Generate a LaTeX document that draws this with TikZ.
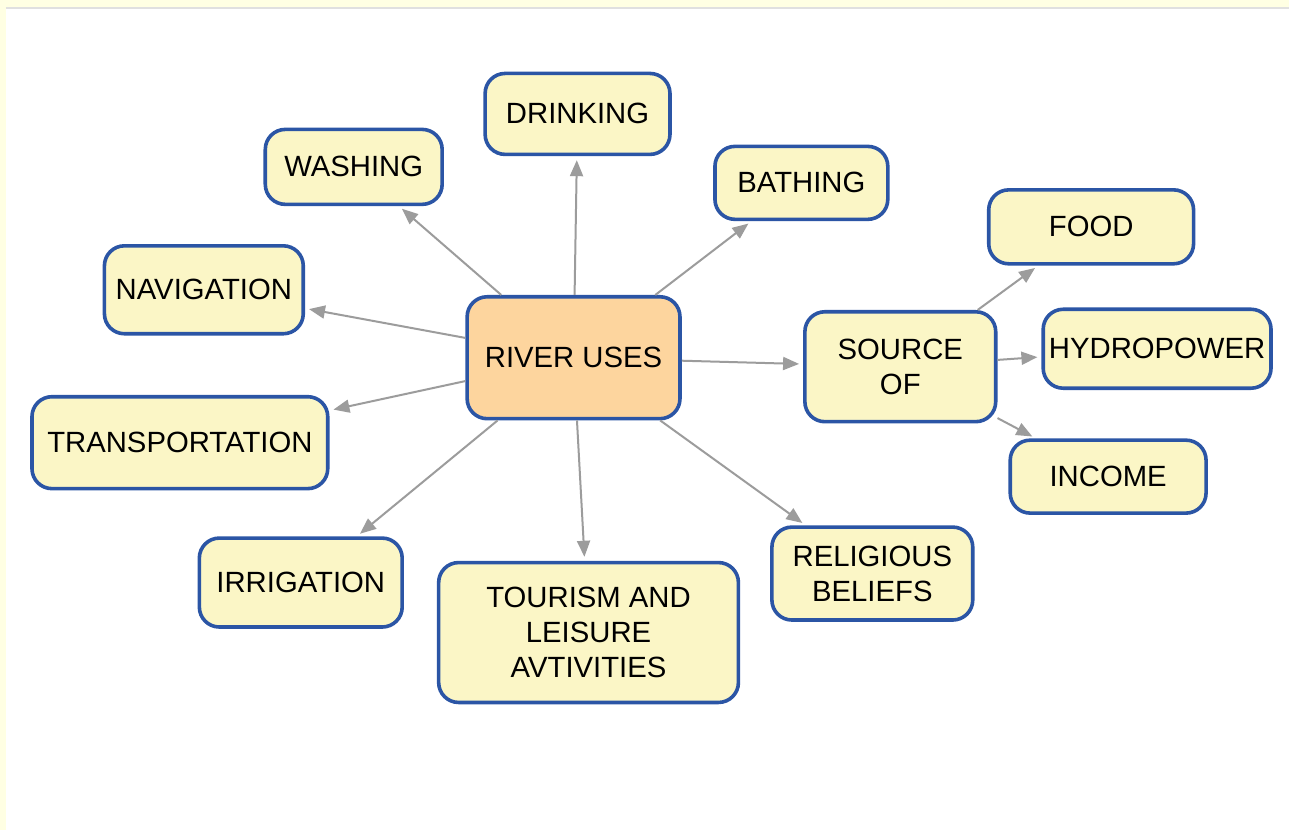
\documentclass[tikz,border=0pt]{standalone}
\usepackage{fontspec}
\setmainfont{Liberation Sans}
\usetikzlibrary{arrows.meta}
\definecolor{bordblue}{HTML}{2B55A5}
\definecolor{boxfill}{HTML}{FBF6C6}
\definecolor{centerfill}{HTML}{FDD59E}
\definecolor{arrgray}{HTML}{9C9C9C}
\definecolor{frameyellow}{HTML}{FFFFE3}
\tikzset{
  box/.style={draw=bordblue, line width=3.6pt, fill=boxfill, rounded corners=20pt,
    align=center, inner sep=0pt, font=\fontsize{29.3}{35}\selectfont},
  conn/.style={draw=arrgray, line width=2pt, -{Triangle[length=16pt,width=13pt]}, shorten >=4pt}
}
\begin{document}
\begin{tikzpicture}[x=1pt,y=-1pt]
\fill[frameyellow] (0,0) rectangle (1290,831);
\fill[white] (6,8) rectangle (1290,831);
\draw[black!12, line width=2pt] (6,8) -- (1290,8);
\useasboundingbox (0,0) rectangle (1290,831);

\node[box, minimum width=185pt, minimum height=81pt] (drink) at (578,114) {DRINKING};
\node[box, minimum width=177pt, minimum height=75pt] (wash) at (354,167) {WASHING};
\node[box, minimum width=173pt, minimum height=73pt] (bath) at (802,183) {BATHING};
\node[box, minimum width=199pt, minimum height=88pt] (nav) at (204,290) {NAVIGATION};
\node[box, fill=centerfill, minimum width=213pt, minimum height=122pt] (ru) at (574,358) {RIVER USES};
\node[box, minimum width=296pt, minimum height=92pt] (trans) at (180,443) {TRANSPORTATION};
\node[box, minimum width=191pt, minimum height=110pt] (src) at (901,367) {SOURCE\\OF};
\node[box, minimum width=205pt, minimum height=74pt] (food) at (1092,227) {FOOD};
\node[box, minimum width=228pt, minimum height=79pt] (hydro) at (1158,349) {HYDROPOWER};
\node[box, minimum width=196pt, minimum height=73pt] (inc) at (1109,477) {INCOME};
\node[box, minimum width=203pt, minimum height=89pt] (irr) at (301,583) {IRRIGATION};
\node[box, minimum width=300pt, minimum height=140pt] (tour) at (589,633) {TOURISM AND\\LEISURE\\AVTIVITIES};
\node[box, minimum width=201pt, minimum height=93pt] (rel) at (873,574) {RELIGIOUS\\BELIEFS};

\foreach \t in {drink,wash,bath,nav,trans,irr,tour,rel,src}
  \draw[conn] (ru) -- (\t);
\foreach \t in {food,hydro,inc}
  \draw[conn] (src) -- (\t);
\end{tikzpicture}
\end{document}
